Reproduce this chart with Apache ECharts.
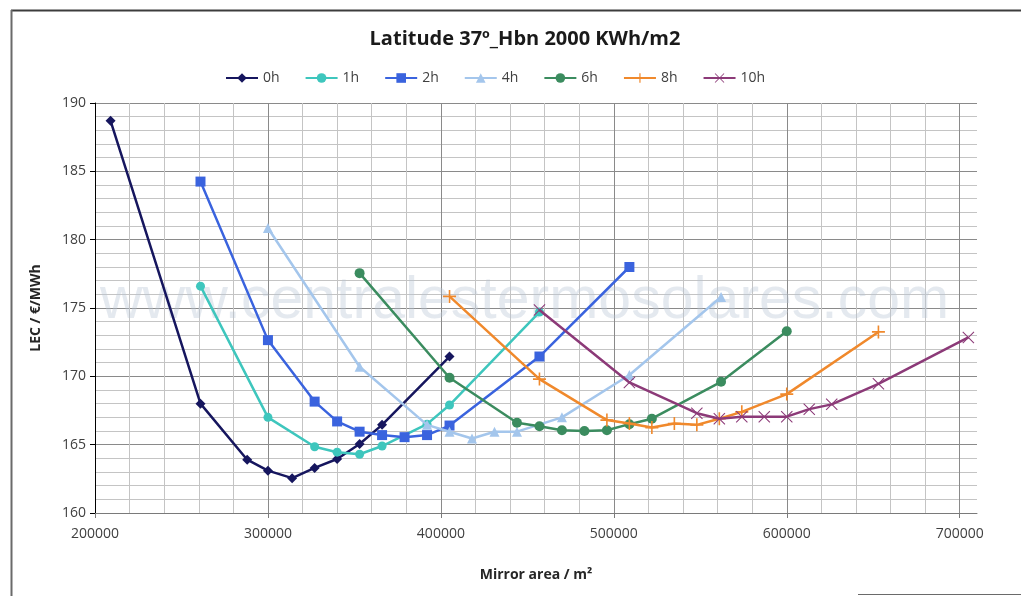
<!DOCTYPE html>
<html>
<head>
<meta charset="utf-8">
<style>
  html, body { margin: 0; padding: 0; background: #ffffff; }
  #chart { width: 1021px; height: 596px; }
</style>
<script src="https://cdn.jsdelivr.net/npm/echarts@6/dist/echarts.min.js"></script>
</head>
<body>
<div id="chart"></div>
<script>
// Levelised electricity cost against solar-field mirror area, one curve per storage size
const seriesNames = ['0h', '1h', '2h', '4h', '6h', '8h', '10h'];

const area0h  = [209000, 261000, 288000, 300000, 314000, 327000, 340000, 353000, 366000, 405000];
const lec0h   = [188.7, 168.0, 163.9, 163.1, 162.55, 163.3, 163.95, 165.05, 166.45, 171.45];

const area1h  = [261000, 300000, 327000, 340000, 353000, 366000, 392000, 405000, 457000];
const lec1h   = [176.6, 167.0, 164.85, 164.45, 164.3, 164.9, 166.5, 167.9, 174.7];

const area2h  = [261000, 300000, 327000, 340000, 353000, 366000, 379000, 392000, 405000, 457000, 509000];
const lec2h   = [184.25, 172.65, 168.15, 166.7, 165.95, 165.7, 165.55, 165.7, 166.4, 171.45, 178.0];

const area4h  = [300000, 353000, 392000, 405000, 418000, 431000, 444000, 470000, 509000, 562000];
const lec4h   = [180.85, 170.7, 166.45, 165.95, 165.45, 165.95, 165.95, 167.0, 170.1, 175.8];

const area6h  = [353000, 405000, 444000, 457000, 470000, 483000, 496000, 509000, 522000, 562000, 600000];
const lec6h   = [177.55, 169.9, 166.6, 166.35, 166.05, 166.0, 166.05, 166.5, 166.9, 169.6, 173.3];

const area8h  = [405000, 457000, 496000, 509000, 522000, 535000, 548000, 561000, 574000, 600000, 653000];
const lec8h   = [175.85, 169.8, 166.8, 166.55, 166.25, 166.55, 166.45, 166.9, 167.4, 168.7, 173.25];

const area10h = [457000, 509000, 548000, 561000, 574000, 587000, 600000, 613000, 626000, 653000, 705000];
const lec10h  = [174.85, 169.55, 167.3, 166.9, 167.05, 167.05, 167.05, 167.6, 167.95, 169.45, 172.85];

const xTickLabels = [200000, 300000, 400000, 500000, 600000, 700000];
const yTickLabels = [160, 165, 170, 175, 180, 185, 190];

const allAreas = [area0h, area1h, area2h, area4h, area6h, area8h, area10h];
const allLec   = [lec0h, lec1h, lec2h, lec4h, lec6h, lec8h, lec10h];

const colors  = ['#16165e', '#3ec6bd', '#3a63de', '#a4c6ec', '#3b8c5f', '#f0892c', '#8c3a78'];
const PLUS  = 'path://M7,0h2v7h7v2h-7v7h-2v-7h-7v-2h7z';
const CROSS = 'path://M1,0L8,7L15,0L16,1L9,8L16,15L15,16L8,9L1,16L0,15L7,8L0,1Z';
const symbols = ['diamond', 'circle', 'rect', 'triangle', 'circle', PLUS, CROSS];
const symbolSizes = [10, 9, 10, 10, 10, 13, 12];

const X_MIN = 200000, X_MAX = 710000, X_MINOR = 20000;

// gridline colours: darker every 100000, lighter in between, none on the right edge
const xGridColors = [];
for (let v = X_MIN; v <= X_MAX; v += X_MINOR) {
  xGridColors.push(v % 100000 === 0 ? '#8a8a8a' : '#c4c4c4');
}
xGridColors.push('rgba(0,0,0,0)');

const FONT = '"Open Sans", sans-serif';

const series = seriesNames.map((name, i) => ({
  name: name,
  type: 'line',
  xAxisIndex: 0,
  yAxisIndex: 0,
  data: allAreas[i].map((x, k) => [x, allLec[i][k]]),
  symbol: symbols[i],
  symbolSize: symbolSizes[i],
  showAllSymbol: true,
  lineStyle: { color: colors[i], width: 2.5 },
  itemStyle: { color: colors[i] },
  z: 3 + i,
  animation: false
}));

const chart = echarts.init(document.getElementById('chart'), null, { renderer: 'canvas' });

chart.setOption({
  backgroundColor: '#ffffff',
  animation: false,
  title: {
    text: 'Latitude 37º_Hbn 2000 KWh/m2',
    left: 520,
    top: 24,
    textAlign: 'center',
    textStyle: { fontFamily: FONT, fontSize: 20, fontWeight: 'bold', color: '#1a1a1a' }
  },
  legend: {
    data: seriesNames,
    left: 220,
    top: 66,
    itemWidth: 32,
    itemHeight: 12,
    itemGap: 25,
    textStyle: { fontFamily: FONT, fontSize: 14, color: '#404040' }
  },
  grid: { left: 95, right: 44, top: 103, bottom: 83, containLabel: false },
  graphic: [
    {
      type: 'text',
      left: 100,
      top: 272,
      silent: true,
      z: 1,
      style: {
        text: 'www.centralestermosolares.com',
        font: '59px "Liberation Sans", Arial, sans-serif',
        fill: 'rgba(185,196,212,0.38)'
      }
    },
    { type: 'line', shape: { x1: 11, y1: 10.5, x2: 1021, y2: 10.5 }, style: { stroke: '#3c3c3c', lineWidth: 2 } },
    { type: 'line', shape: { x1: 11.5, y1: 10, x2: 11.5, y2: 596 }, style: { stroke: '#6a6a6a', lineWidth: 2 } },
    { type: 'line', shape: { x1: 858, y1: 594.5, x2: 1021, y2: 594.5 }, style: { stroke: '#6a6a6a', lineWidth: 1 } }
  ],
  xAxis: [
    {
      type: 'value',
      min: X_MIN,
      max: X_MAX,
      interval: X_MINOR,
      position: 'bottom',
      axisLine: { show: true, lineStyle: { color: '#7a7a7a', width: 1 } },
      axisTick: { show: false },
      axisLabel: { show: false },
      splitLine: { show: true, lineStyle: { color: xGridColors, width: 1 } }
    },
    {
      type: 'value',
      min: X_MIN,
      max: X_MAX,
      interval: 100000,
      position: 'bottom',
      name: 'Mirror area / m²',
      nameLocation: 'middle',
      nameGap: 55,
      nameTextStyle: { fontFamily: FONT, fontSize: 14, fontWeight: 'bold', color: '#262626' },
      axisLine: { show: false },
      axisTick: { show: true, length: 5, customValues: xTickLabels, lineStyle: { color: '#7a7a7a' } },
      axisLabel: {
        show: true,
        customValues: xTickLabels,
        margin: 14,
        fontFamily: FONT,
        fontSize: 14,
        color: '#404040',
        formatter: v => (xTickLabels.indexOf(v) >= 0 ? String(v) : '')
      },
      splitLine: { show: false }
    }
  ],
  yAxis: [
    {
      type: 'value',
      min: yTickLabels[0],
      max: yTickLabels[yTickLabels.length - 1],
      interval: 5,
      name: 'LEC / €/MWh',
      nameLocation: 'middle',
      nameGap: 52,
      nameRotate: 90,
      nameTextStyle: { fontFamily: FONT, fontSize: 14, fontWeight: 'bold', color: '#262626' },
      axisLine: { show: true, lineStyle: { color: '#000000', width: 1 } },
      axisTick: { show: true, length: 5, lineStyle: { color: '#000000' } },
      axisLabel: { margin: 9, fontFamily: FONT, fontSize: 14, color: '#404040' },
      splitLine: { show: true, lineStyle: { color: '#8a8a8a', width: 1 } },
      minorTick: { show: false, splitNumber: 5 },
      minorSplitLine: { show: true, lineStyle: { color: '#c4c4c4', width: 1 } }
    }
  ],
  series: series
});
</script>
</body>
</html>
